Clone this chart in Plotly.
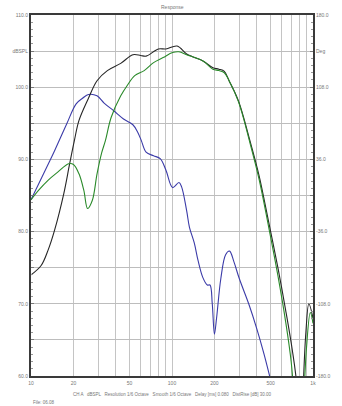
import plotly.graph_objects as go

# ---- data ----
black_f = [10, 11.8, 13.2, 14.7, 17.1, 18.8, 20.3, 21.9, 25.6, 29.4, 34.8, 43.3, 52.8, 60, 65.5, 80, 90.6, 108.7, 127, 141, 167, 195, 215, 235, 254, 296, 357, 414, 483, 565, 640, 713, 770, 810, 850, 890, 935, 1000]
black_db = [74.0, 75.3, 77.4, 80.2, 85.3, 89.4, 92.6, 95.4, 98.5, 100.9, 102.3, 103.3, 104.5, 104.4, 104.3, 105.3, 105.3, 105.7, 104.6, 104.2, 103.6, 102.7, 102.5, 102.2, 100.9, 98.1, 92.6, 87.8, 81.5, 74.9, 69.1, 63.6, 58.5, 48.0, 58.0, 66.0, 70.0, 68.0]

green_f = [10, 11.3, 13.2, 15.4, 18.5, 20, 21.9, 23.7, 25.2, 27.2, 29.4, 31.7, 33.7, 37, 43.3, 48, 54.4, 63.5, 74, 86.5, 101, 112, 127, 167, 195, 215, 235, 254, 296, 357, 414, 483, 565, 640, 700, 740, 790, 850, 900, 957, 1000]
green_db = [84.4, 85.7, 87.1, 88.2, 89.4, 89.3, 88.0, 85.7, 83.2, 84.3, 88.0, 90.9, 92.6, 95.8, 98.8, 100.2, 101.6, 102.3, 103.4, 104.1, 104.8, 104.9, 104.5, 103.6, 102.5, 102.3, 102.0, 100.9, 98.0, 92.3, 87.3, 80.8, 73.8, 67.5, 62.0, 56.0, 46.0, 55.0, 64.0, 68.8, 67.3]

blue_f = [10, 13.6, 14.7, 17.9, 20.9, 23.3, 25.6, 29.4, 33, 38.8, 45.3, 52.8, 57, 60.6, 65.5, 74, 82.5, 90.6, 101, 112, 117, 127, 133, 144, 153, 165, 178, 186, 193, 200, 207, 222, 240, 256, 275, 300, 350, 400, 450, 500, 540]
blue_db = [84.4, 89.8, 91.2, 94.9, 97.7, 98.5, 99.0, 98.8, 97.8, 96.7, 95.6, 94.8, 93.8, 92.6, 91.0, 90.5, 90.1, 88.5, 86.1, 86.8, 86.2, 82.9, 80.6, 78.4, 76.0, 73.7, 72.6, 72.6, 70.0, 65.8, 68.0, 73.5, 76.8, 77.3, 75.8, 73.5, 70.0, 66.5, 63.0, 59.5, 57.0]

x_labels = {10: "10", 20: "20", 50: "50", 100: "100", 200: "200", 500: "500", 1000: "1k"}
y_labels = {60: "60.0", 70: "70.0", 80: "80.0", 90: "90.0", 100: "100.0", 105: "dBSPL", 110: "110.0"}
y2_labels = {-180: "-180.0", -108: "-108.0", -36: "-36.0", 36: "36.0", 108: "108.0", 144: "Deg", 180: "180.0"}

title_text = "Response"
caption_text = "CH A   dBSPL   Resolution 1/6 Octave   Smooth 1/6 Octave   Delay [ms] 0.080   DistRise [dB] 30.00"
file_text = "File: 06.08"

# ---- ticks ----
x_ticks = []
for dec in [10, 100]:
    for m in range(1, 10):
        x_ticks.append(dec * m)
x_ticks.append(1000)
x_text = [x_labels.get(v, "") for v in x_ticks]

y_ticks = list(range(60, 111, 5))
y_text = [y_labels.get(v, "") for v in y_ticks]
y2_ticks = list(range(-180, 181, 36))
y2_text = [y2_labels.get(v, "") for v in y2_ticks]

fig = go.Figure()
fig.add_trace(go.Scatter(x=blue_f, y=blue_db, mode="lines", line=dict(color="#3b3ba8", width=1.1, shape="spline"), hoverinfo="skip"))
fig.add_trace(go.Scatter(x=black_f, y=black_db, mode="lines", line=dict(color="#262626", width=1.1, shape="spline"), hoverinfo="skip"))
fig.add_trace(go.Scatter(x=green_f, y=green_db, mode="lines", line=dict(color="#2a8a2a", width=1.1, shape="spline"), hoverinfo="skip"))
fig.add_trace(go.Scatter(x=[10, 1000], y=[-180, 180], yaxis="y2", mode="lines", line=dict(width=0), opacity=0, hoverinfo="skip"))

tickfont = dict(family="Liberation Sans", size=5, color="#777")
fig.update_layout(
    width=342, height=406,
    margin=dict(l=20, r=23, t=14, b=30),
    paper_bgcolor="white", plot_bgcolor="white",
    showlegend=False,
    xaxis=dict(type="log", range=[1, 3], tickmode="array", tickvals=x_ticks, ticktext=x_text,
               showgrid=True, gridcolor="#c4c4c4", gridwidth=1, zeroline=False,
               showline=True, linecolor="#3a3a3a", linewidth=2, mirror=True,
               ticks="", tickfont=tickfont, ticklabelstandoff=1),
    yaxis=dict(range=[60, 110], tickmode="array", tickvals=y_ticks, ticktext=y_text,
               showgrid=True, gridcolor="#bdbdbd", gridwidth=1, zeroline=False,
               showline=True, linecolor="#3a3a3a", linewidth=2,
               ticks="inside", ticklen=3, tickcolor="#777", tickfont=tickfont,
               minor=dict(dtick=1, ticks="inside", ticklen=2, tickcolor="#999", showgrid=False)),
    yaxis2=dict(range=[-180, 180], overlaying="y", side="right", tickmode="array",
                tickvals=y2_ticks, ticktext=y2_text, showgrid=False, zeroline=False,
                showline=True, linecolor="#3a3a3a", linewidth=2,
                ticks="inside", ticklen=3, tickcolor="#777", tickfont=tickfont,
                minor=dict(dtick=7.2, ticks="inside", ticklen=2, tickcolor="#999", showgrid=False)),
    annotations=[
        dict(text=title_text, x=0.5, y=1, xref="paper", yref="paper", xanchor="center", yanchor="bottom",
             yshift=3, showarrow=False, font=dict(family="Liberation Sans", size=5, color="#777")),
        dict(text=caption_text, x=0.5, y=0, xref="paper", yref="paper", xanchor="center", yanchor="top",
             yshift=-14, showarrow=False, font=dict(family="Liberation Sans", size=4.5, color="#777")),
        dict(text=file_text, x=0, y=0, xref="paper", yref="paper", xanchor="left", yanchor="top",
             yshift=-22, showarrow=False, font=dict(family="Liberation Sans", size=4.5, color="#777")),
    ],
)

fig.write_html("out.html")
